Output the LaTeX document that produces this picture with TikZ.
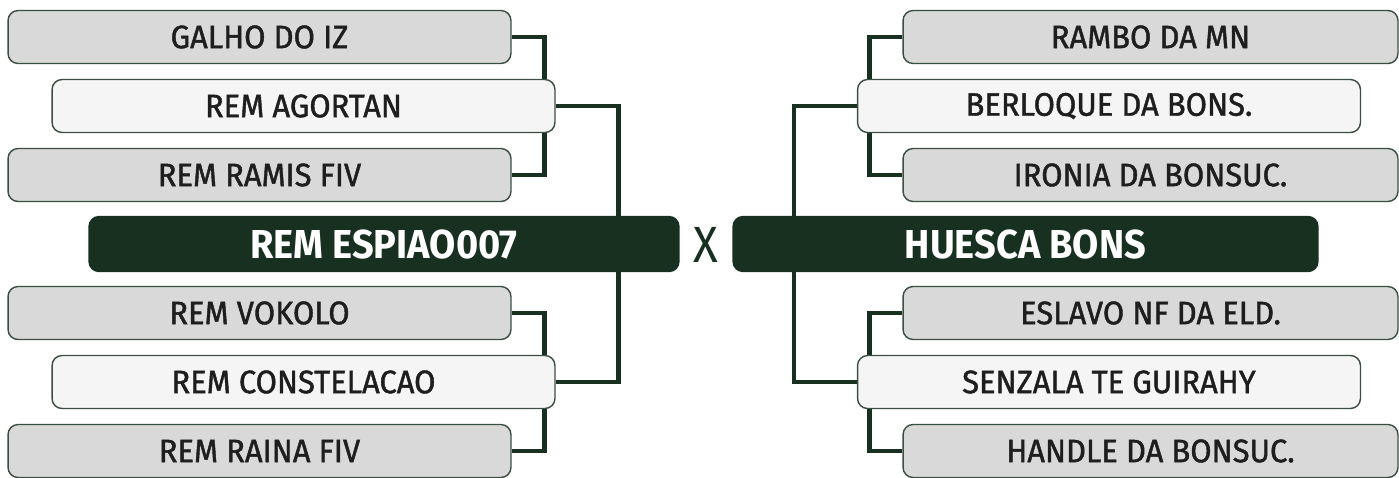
\documentclass[tikz,border=0pt]{standalone}
\usepackage{fontspec}
\setmainfont{Fira Sans}[FakeStretch=0.9]
\newfontfamily\seedfont{Fira Sans}[FakeStretch=0.95, FakeBold=1.3]
\newfontfamily\finalfont{Fira Sans}[FakeStretch=0.94]
\usetikzlibrary{positioning}
\pgfdeclarelayer{background}
\pgfsetlayers{background,main}
\definecolor{pinegreen}{HTML}{17301F}
\definecolor{seedgray}{HTML}{D9D9D9}
\definecolor{seedlight}{HTML}{F5F5F5}
\definecolor{inkgray}{HTML}{1E1E1E}
\tikzset{
  seed/.style={draw=pinegreen!85, line width=0.8pt, rounded corners=0.2cm, fill=seedgray,
    minimum width=10.06cm, minimum height=1.06cm, inner sep=0pt, text=inkgray,
    font=\seedfont\fontsize{18.5}{21}\selectfont},
  winner/.style={seed, fill=seedlight},
  finalist/.style={seed, draw=pinegreen, fill=pinegreen, text=white, minimum width=11.8cm,
    minimum height=1.1cm, font=\finalfont\fontsize{23}{27}\selectfont\bfseries},
  link/.style={draw=pinegreen, line width=2.5pt},
}
\begin{document}
\begin{tikzpicture}[x=0.02cm, y=-0.02cm]
	\useasboundingbox (0,0) rectangle (1399,477);
	% left bracket
	\node[seed] (galho) at (259.5,37) {GALHO DO IZ};
	\node[winner] (agortan) at (303.5,106) {REM AGORTAN};
	\node[seed] (ramis) at (259.5,175) {REM RAMIS FIV};
	\node[finalist] (espiao) at (384,244) {REM ESPIAO007};
	\node[seed] (vokolo) at (259.5,313) {REM VOKOLO};
	\node[winner] (constelacao) at (303.5,382) {REM CONSTELACAO};
	\node[seed] (raina) at (259.5,451) {REM RAINA FIV};
	% right bracket
	\node[seed, minimum width=9.9cm] (rambo) at (1150.5,37) {RAMBO DA MN};
	\node[winner] (berloque) at (1109,106) {BERLOQUE DA BONS.};
	\node[seed, minimum width=9.9cm] (ironia) at (1150.5,175) {IRONIA DA BONSUC.};
	\node[finalist, minimum width=11.7cm] (huesca) at (1025.5,244) {HUESCA BONS};
	\node[seed, minimum width=9.9cm] (eslavo) at (1150.5,313) {ESLAVO NF DA ELD.};
	\node[winner] (senzala) at (1109,382) {SENZALA TE GUIRAHY};
	\node[seed, minimum width=9.9cm] (handle) at (1150.5,451) {HANDLE DA BONSUC.};
	\node[text=pinegreen, font=\fontsize{29}{32}\selectfont] (versus) at (706,245) {X};
	% connectors
	\begin{pgfonlayer}{background}
		\draw[link] (galho.east) -- ++(33,0) |- (ramis.east);
		\draw[link] (vokolo.east) -- ++(33,0) |- (raina.east);
		\draw[link] (agortan.east) -- ++(63,0) coordinate (lup) -- (lup |- espiao.north);
		\draw[link] (constelacao.east) -- ++(63,0) coordinate (ldown) -- (ldown |- espiao.south);
		\draw[link] (rambo.west) -- ++(-33,0) |- (ironia.west);
		\draw[link] (eslavo.west) -- ++(-33,0) |- (handle.west);
		\draw[link] (berloque.west) -- ++(-63,0) coordinate (rup) -- (rup |- huesca.north);
		\draw[link] (senzala.west) -- ++(-63,0) coordinate (rdown) -- (rdown |- huesca.south);
	\end{pgfonlayer}
\end{tikzpicture}
\end{document}
